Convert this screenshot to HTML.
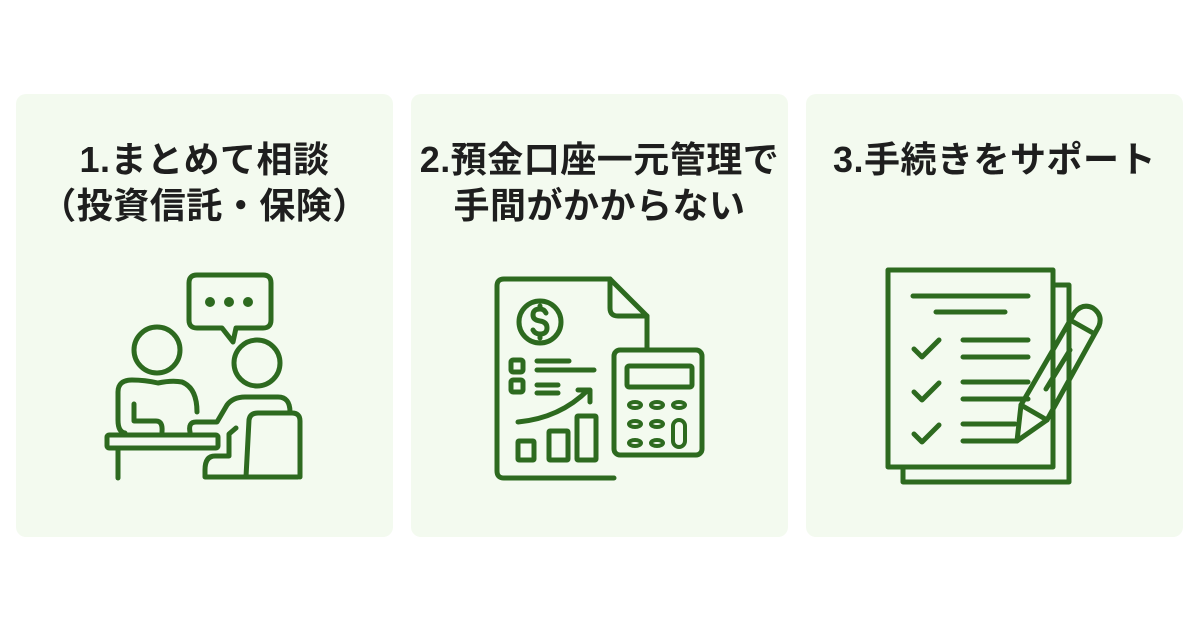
<!DOCTYPE html>
<html><head><meta charset="utf-8"><style>
body{margin:0;width:1200px;height:630px;background:#fff;position:relative;overflow:hidden;font-family:"Liberation Sans","Noto Sans CJK JP",sans-serif}
.card{position:absolute;top:94px;width:377px;height:443px;background:#f3faef;border-radius:10px}
.t{position:absolute;top:137px;width:377px;text-align:center;font-weight:bold;font-size:36px;letter-spacing:0.5px;line-height:46px;color:#1e1e1e;white-space:nowrap}
svg{position:absolute;left:0;top:0}
</style></head><body>
<div class="card" style="left:16px"></div>
<div class="card" style="left:411px"></div>
<div class="card" style="left:806px"></div>
<div class="t" style="left:16px">1.まとめて相談<br>（投資信託・保険）</div>
<div class="t" style="left:411px">2.預金口座一元管理で<br>手間がかからない</div>
<div class="t" style="left:806px">3.手続きをサポート</div>
<svg width="1200" height="630" fill="none" stroke="#2d6a1f" stroke-width="5" stroke-linecap="round" stroke-linejoin="round">
<!-- icon 1 -->
<path d="M197 275 H263 Q271 275 271 283 V320 Q271 328 263 328 H236 L233 342 L222 328 H197 Q189 328 189 320 V283 Q189 275 197 275Z"/>
<circle cx="210" cy="302" r="2.5"/><circle cx="229" cy="302" r="2.5"/><circle cx="248" cy="302" r="2.5"/>
<circle cx="157" cy="350" r="23"/>
<path d="M125 433 Q118 432 118 420 V392 Q118 380 132 380 Q145 380 158 383 Q172 380 182 382 Q197 388 197 412"/>
<path d="M134 404 V421 H156 Q163 421 162 432"/>
<path d="M190 432 Q188 422 196 422 H217 L227 405 Q233 397 245 397 H278 Q290 397 290 412"/>
<circle cx="257" cy="363" r="23"/>
<rect x="107" y="435" width="111" height="13" rx="2"/>
<path d="M118 448 V478"/>
<path d="M236 428 L229 434 V456 H215 Q205 456 205 470 V477 H298"/>
<path d="M246 477 L249 420 Q250 413 258 413 H292 Q300 413 300 421 V477"/>
<!-- icon 2 -->
<path d="M614 478 H504 Q497 478 497 471 V286 Q497 279 504 279 H610 L647 316 V350"/>
<path d="M610 279 V308 Q610 316 618 316 H647"/>
<circle cx="540" cy="322" r="21"/>
<path d="M546 313 Q544 309 540 309 Q533 309 533 315 Q533 320 540 321 Q547 322 547 328 Q547 334 540 334 Q535 334 533 330 M540 306 V309 M540 334 V338"/>
<rect x="511" y="360" width="12" height="12" rx="2"/><rect x="511" y="380" width="12" height="12" rx="2"/>
<path d="M537 361 H569 M537 370 H594 M537 385 H558 M537 393 H558"/>
<path d="M518 422 Q560 418 588 390 M578 390 H590 V402"/>
<rect x="518" y="441" width="16" height="19" rx="1"/><rect x="549" y="431" width="19" height="29" rx="1"/><rect x="577" y="416" width="19" height="44" rx="1"/>
<rect x="614" y="350" width="88" height="105" rx="6"/>
<rect x="627" y="366" width="65" height="21" rx="2"/>
<g stroke-width="4"><ellipse cx="635" cy="405" rx="6" ry="3"/><ellipse cx="657" cy="405" rx="6" ry="3"/><ellipse cx="679" cy="405" rx="6" ry="3"/>
<ellipse cx="635" cy="424" rx="6" ry="3"/><ellipse cx="657" cy="424" rx="6" ry="3"/>
<ellipse cx="635" cy="443" rx="6" ry="3"/><ellipse cx="657" cy="443" rx="6" ry="3"/>
<rect x="673" y="420" width="12" height="27" rx="6"/></g>
<!-- icon 3 -->
<path d="M1053 285 H1069 V482 H903 V467"/>
<rect x="888" y="270" width="165" height="197"/>
<path d="M913 296 H1028 M936 312 H1005 M963 340 H1028 M963 357 H1028 M963 382 H1028 M963 399 H1028 M963 424 H1015 M963 441 H1017"/>
<path d="M914 349 L922 357 L939 340 M914 392 L922 400 L939 383 M914 434 L922 442 L939 425"/>
<path d="M1021 405 L1075 312 Q1083 303 1093 308 Q1103 315 1099 326 L1047 420 L1017 441 Z"/>
<path d="M1070 320 L1093 333 M1021 405 L1047 420 M1046 389 L1070 350"/>
</svg>
</body></html>
